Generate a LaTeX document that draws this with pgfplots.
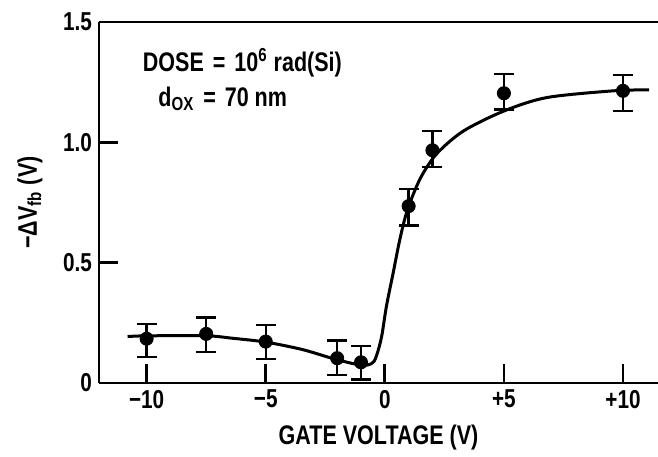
\documentclass[border=0pt]{standalone}
\usepackage{fontspec}
\setmainfont{Liberation Sans}[FakeStretch=0.8]
\usepackage{pgfplots}
\pgfplotsset{compat=1.18}

\pgfplotstableread{
x     y      ep     em
-10   0.184  0.060  0.076
-7.5  0.204  0.068  0.076
-5    0.172  0.070  0.072
-2    0.103  0.073  0.070
-1    0.086  0.068  0.071
1     0.735  0.072  0.081
2     0.967  0.080  0.070
5     1.204  0.079  0.067
10    1.214  0.066  0.084
}\measured

\begin{document}
\begin{tikzpicture}
\begin{axis}[
    scale only axis,
    width=279.5bp, height=180.5bp,
    xmin=-12, xmax=11.47, ymin=0, ymax=1.5,
    axis x line=box, axis y line=left,
    axis line style={-, line width=1.4pt},
    xtick={-10,-5,0,5,10},
    xticklabels={−10,−5,0,+5,+10},
    ytick={0,0.5,1,1.5},
    yticklabels={0,0.5,1.0,1.5},
    xtick pos=bottom, ytick pos=left,
    tick align=inside,
    major tick length=9.5bp,
    every tick/.style={black, line width=1.4pt},
    /pgf/number format/assume math mode=true,
    tick label style={font=\fontsize{13}{15}\selectfont\bfseries},
    label style={font=\fontsize{13.5}{16}\selectfont\bfseries},
    xlabel={GATE VOLTAGE (V)},
    ylabel={−ΔV\textsubscript{fb} (V)},
    xlabel style={at={(axis description cs:0.5,-0.15)}, anchor=center},
    ylabel style={at={(axis description cs:-0.1235,0.5)}, anchor=center},
    clip=false,
]
% fitted curve
\addplot[smooth, line width=1.5bp] coordinates {
  (-10.8,0.193) (-10,0.196) (-7.5,0.196) (-6.4,0.186) (-5,0.170)
  (-3.5,0.140) (-2.4,0.108) (-2,0.097) (-1.4,0.082) (-1,0.075)
  (-0.7,0.075) (-0.45,0.090) (-0.28,0.135) (-0.12,0.20) (0.07,0.32)
  (0.35,0.457) (0.63,0.596) (0.91,0.707) (1.26,0.80) (1.6,0.87)
  (2.2,0.955) (3.3,1.047) (5.0,1.13) (6.8,1.186) (9.6,1.214) (11.1,1.218)
};
% measured points
\addplot[only marks, mark=*, mark size=3.3bp, black,
    error bars/.cd, y dir=both, y explicit,
    error bar style={line width=1.2pt},
    error mark options={rotate=90, mark size=5bp, line width=1.2pt}]
  table[x=x, y=y, y error plus=ep, y error minus=em] {\measured};

\node[anchor=west, font=\fontsize{13.5}{16}\selectfont\bfseries]
  at (axis cs:-10.45,1.33) {DOSE\,\,=\,\,10\textsuperscript{6} rad(Si)};
\node[anchor=west, font=\fontsize{13.5}{16}\selectfont\bfseries]
  at (axis cs:-9.8,1.18) {d\textsubscript{OX}\,\,=\,\,70 nm};
\end{axis}
\pgfresetboundingbox
\path[use as bounding box] (-49.5bp,-37bp) rectangle (279.5bp,191.5bp);
\end{tikzpicture}
\end{document}
